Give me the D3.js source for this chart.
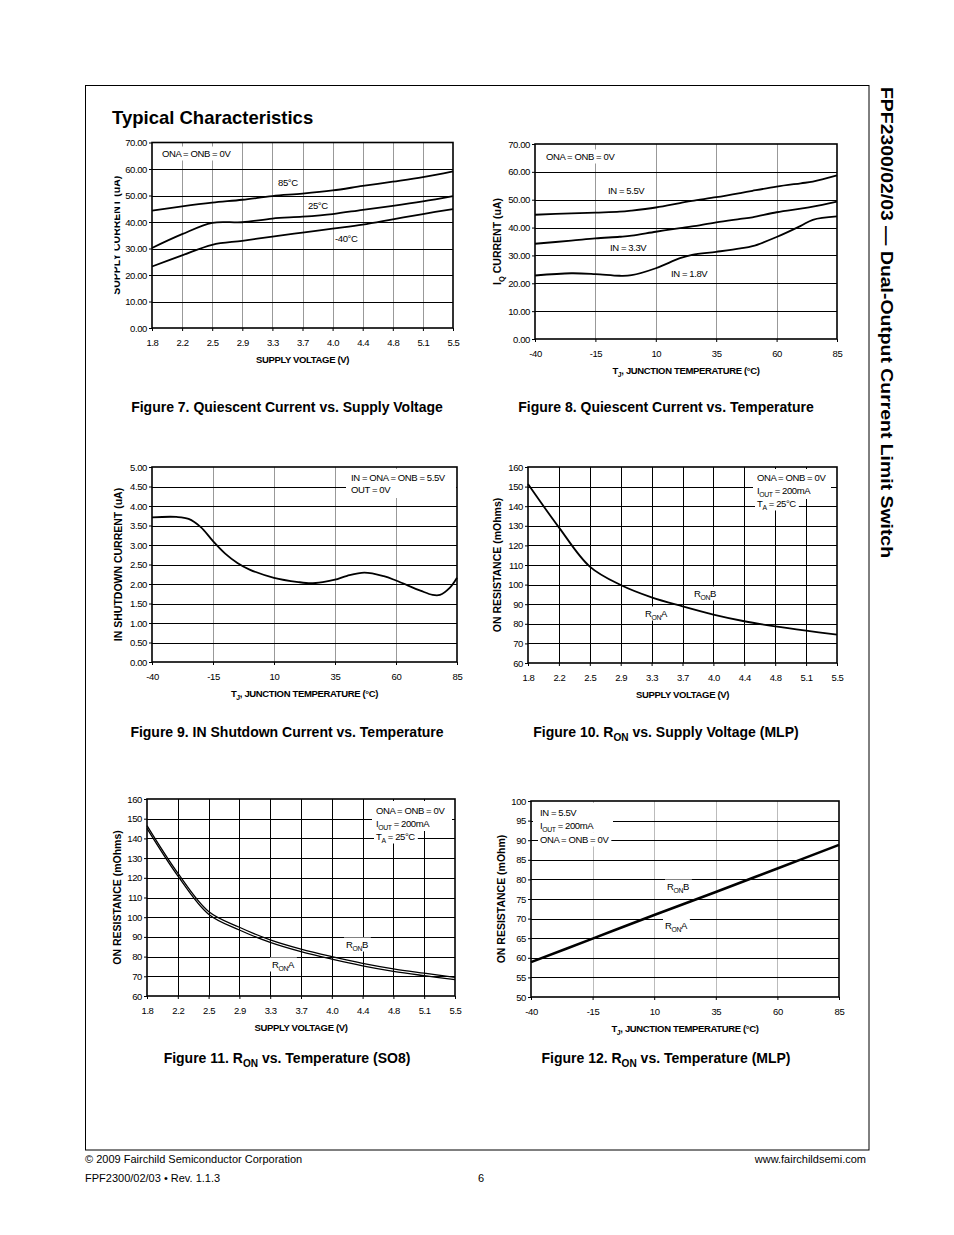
<!DOCTYPE html>
<html><head><meta charset="utf-8">
<script src="https://cdn.jsdelivr.net/npm/d3@7"></script>
<style>
body{margin:0;background:#fff;}
svg{display:block;font-family:"Liberation Sans",Arial,sans-serif;}
</style></head><body>
<svg id="page" width="954" height="1235"></svg>
<script>
// ---------- data ----------
const voltageTicks = ["1.8","2.2","2.5","2.9","3.3","3.7","4.0","4.4","4.8","5.1","5.5"];
const tempTicks = [-40,-15,10,35,60,85];

// Figure 7: quiescent current vs supply voltage (uA)
const fig7YTicks = [0,10,20,30,40,50,60,70];
const fig7Current85C  = [44.3,45.9,47.3,48.4,49.8,50.7,51.9,53.6,55.2,56.9,59.1];
const fig7Current25C  = [30.2,35.4,39.7,39.9,41.3,42.0,43.0,44.6,46.1,47.8,49.8];
const fig7CurrentM40C = [23.2,27.4,31.4,32.9,34.5,36.0,37.5,39.0,41.0,43.0,44.9];

// Figure 8: quiescent current vs temperature (uA)
const fig8YTicks = [0,10,20,30,40,50,60,70];
const fig8Temps = [-40,-25,-15,-5,0,10,20,25,35,45,50,60,70,75,85];
const fig8In55 = [44.6,45.1,45.4,45.7,46.1,47.2,48.8,49.6,50.9,52.4,53.2,54.7,55.9,56.5,58.7];
const fig8In33 = [34.2,35.3,36.1,36.7,37.1,38.5,39.8,40.4,41.9,43.1,43.7,45.5,46.8,47.5,49.3];
const fig8In18 = [22.8,23.6,23.3,22.7,22.9,25.4,29.0,30.2,31.3,32.5,33.3,36.6,40.6,42.8,44.0];

// Figure 9: IN shutdown current vs temperature (uA)
const fig9YTicks = [0,0.5,1,1.5,2,2.5,3,3.5,4,4.5,5];
const fig9Temps = [-40,-30,-25,-20,-15,-10,-5,0,10,20,25,30,35,40,47,55,60,70,75,78,82,85];
const fig9Shutdown = [3.71,3.72,3.67,3.46,3.10,2.78,2.54,2.37,2.16,2.05,2.02,2.05,2.11,2.21,2.29,2.20,2.09,1.83,1.72,1.72,1.90,2.16];

// Figure 10: RON vs supply voltage (MLP), mOhms
const ronYTicks = [60,70,80,90,100,110,120,130,140,150,160];
const fig10Ron = [151.3,129.2,109.2,99.8,93.5,88.9,84.7,81.3,78.7,76.5,74.5];

// Figure 11: RON vs supply voltage (SO8), mOhms
const fig11RonB = [146.5,122.4,102.9,94.9,88.5,83.8,80.0,76.6,73.8,71.6,69.5];
const fig11RonA = [145.1,121.0,101.5,93.5,87.2,82.5,78.7,75.3,72.5,70.3,68.3];

// Figure 12: RON vs temperature (MLP), mOhm
const fig12YTicks = [50,55,60,65,70,75,80,85,90,95,100];
const fig12Temps = [-40,-15,10,35,60,85];
const fig12Ron = [58.9,64.9,70.9,76.8,82.8,88.8];

// ---------- drawing ----------
const svg = d3.select("#page");
const FONT = '"Liberation Sans",Arial,sans-serif';

function rich(t, parts, fs){
  let shifted = false;
  parts.forEach(p=>{
    const isSub = Array.isArray(p);
    const txt = isSub ? p[0] : p;
    const ts = t.append("tspan").text(txt);
    if(isSub){ ts.attr("font-size", fs*0.72).attr("dy", fs*0.3); shifted = true; }
    else if(shifted){ ts.attr("dy", -fs*0.3); shifted = false; }
  });
  return t;
}

// page frame
svg.append("rect").attr("x",85.5).attr("y",85.5).attr("width",783.5).attr("height",1064.5)
  .attr("fill","none").attr("stroke","#000").attr("stroke-width",1);

svg.append("text").attr("x",112).attr("y",124).attr("font-size",18.5).attr("font-weight","bold")
  .text("Typical Characteristics");

svg.append("text").attr("transform","translate(881,87) rotate(90)")
  .attr("font-size",16).attr("font-weight","bold").attr("textLength",471).attr("lengthAdjust","spacingAndGlyphs")
  .text("FPF2300/02/03 — Dual-Output Current Limit Switch");

// footer
svg.append("text").attr("x",85).attr("y",1163).attr("font-size",11).text("© 2009 Fairchild Semiconductor Corporation");
svg.append("text").attr("x",866).attr("y",1163).attr("font-size",11).attr("text-anchor","end").text("www.fairchildsemi.com");
svg.append("text").attr("x",85).attr("y",1182).attr("font-size",11).text("FPF2300/02/03  •  Rev. 1.1.3");
svg.append("text").attr("x",481).attr("y",1182).attr("font-size",11).attr("text-anchor","middle").text("6");

let clipCount = 0;
function chart(o){
  const g = svg.append("g");
  const x = o.xType === "point"
    ? d3.scalePoint().domain(o.xDomain).range([o.x0,o.x1])
    : d3.scaleLinear().domain(o.xDomain).range([o.x0,o.x1]);
  const y = d3.scaleLinear().domain(d3.extent(o.yTicks)).range([o.y1,o.y0]);

  // vertical grid
  g.append("g").selectAll("line").data(o.xTicks.slice(1,-1)).join("line")
    .attr("x1",d=>Math.round(x(d))+0.5).attr("x2",d=>Math.round(x(d))+0.5).attr("y1",o.y0).attr("y2",o.y1)
    .attr("stroke",o.vColor).attr("stroke-width",1);
  // horizontal grid
  g.append("g").selectAll("line").data(o.yTicks.slice(1,-1)).join("line")
    .attr("x1",o.x0).attr("x2",o.x1).attr("y1",d=>Math.round(y(d))+0.5).attr("y2",d=>Math.round(y(d))+0.5)
    .attr("stroke","#000").attr("stroke-width",1);

  // notes: white backgrounds, then text
  const bgLayer = g.append("g");
  const txtLayer = g.append("g");
  (o.boxes||[]).forEach(b=>{
    bgLayer.append("rect").attr("x",b[0]).attr("y",b[1]).attr("width",b[2]).attr("height",b[3]).attr("fill","#fff");
  });
  (o.notes||[]).forEach(n=>{
    const t = txtLayer.append("text").attr("x",n.x).attr("y",n.y).attr("font-size",9.5).attr("letter-spacing",-0.4);
    rich(t, n.parts, 9.5);
    if(n.bg){
      const w = t.node().getComputedTextLength();
      bgLayer.append("rect").attr("x",n.x-2).attr("y",n.y-10.5).attr("width",w+5).attr("height",14).attr("fill","#fff");
    }
  });

  // series
  const line = d3.line().x(d=>x(d[0])).y(d=>y(d[1])).curve(d3.curveCatmullRom.alpha(0.5));
  o.series.forEach(s=>{
    g.append("path").datum(s.xs.map((v,i)=>[v,s.ys[i]]))
      .attr("d",line).attr("fill","none").attr("stroke","#000")
      .attr("stroke-width",s.w||1.8).attr("stroke-linejoin","round");
  });

  // frame
  g.append("rect").attr("x",o.x0).attr("y",o.y0).attr("width",o.x1-o.x0).attr("height",o.y1-o.y0)
    .attr("fill","none").attr("stroke","#000").attr("stroke-width",1.6);

  // axes
  const ya = g.append("g").attr("transform",`translate(${o.x0},0)`)
    .call(d3.axisLeft(y).tickValues(o.yTicks).tickFormat(o.yFmt).tickSize(3).tickPadding(2));
  const xa = g.append("g").attr("transform",`translate(0,${o.y1})`)
    .call(d3.axisBottom(x).tickValues(o.xTicks).tickFormat(d=>String(d)).tickSize(3).tickPadding(8));
  [ya,xa].forEach(a=>{
    a.select(".domain").remove();
    a.selectAll("text").attr("font-size",9.5).attr("font-family",FONT).attr("letter-spacing",-0.4).attr("fill","#000");
    a.selectAll("line").attr("stroke","#000");
  });

  // axis titles
  const xt = g.append("text").attr("x",(o.x0+o.x1)/2).attr("y",o.y1+35).attr("text-anchor","middle")
    .attr("font-size",9.5).attr("font-weight","bold").attr("letter-spacing",-0.35);
  rich(xt, o.xTitle, 9.5);

  const yc = (o.y0+o.y1)/2;
  const yg = g.append("g");
  const yt = yg.append("text").attr("transform",`translate(${o.yTitleX},${yc}) rotate(-90)`)
    .attr("text-anchor","middle").attr("font-size",o.yTitleSize||10.5).attr("font-weight","bold");
  rich(yt, o.yTitle, o.yTitleSize||10.5);
  if(o.yTitleClip){
    const id = "yclip"+(clipCount++);
    g.append("clipPath").attr("id",id).append("rect")
      .attr("x",o.yTitleClip).attr("y",o.y0-20).attr("width",30).attr("height",o.y1-o.y0+40);
    yg.attr("clip-path",`url(#${id})`);
  }

  // caption
  const cap = g.append("text").attr("x",o.capX).attr("y",o.capY).attr("text-anchor","middle")
    .attr("font-size",14).attr("font-weight","bold");
  rich(cap, o.caption, 14);
}

const fmt2 = d3.format(".2f");
const fmtInt = d => String(d);
const tempTitle = ["T",["J"],", JUNCTION TEMPERATURE (°C)"];

// Figure 7
chart({
  x0:152, x1:453, y0:142.5, y1:328, xType:"point", xDomain:voltageTicks, xTicks:voltageTicks,
  yTicks:fig7YTicks, yFmt:fmt2, vColor:"#999",
  series:[
    {xs:voltageTicks, ys:fig7Current85C},
    {xs:voltageTicks, ys:fig7Current25C},
    {xs:voltageTicks, ys:fig7CurrentM40C}
  ],
  notes:[
    {x:162,y:157,parts:["ONA = ONB = 0V"],bg:true},
    {x:278,y:186,parts:["85°C"]},
    {x:308,y:209,parts:["25°C"]},
    {x:335,y:242,parts:["-40°C"]}
  ],
  xTitle:["SUPPLY VOLTAGE (V)"], yTitle:["SUPPLY CURRENT (uA)"], yTitleX:120, yTitleClip:114.5,
  caption:["Figure 7. Quiescent Current vs. Supply Voltage"], capX:287, capY:412
});

// Figure 8
chart({
  x0:535, x1:837, y0:144, y1:339, xType:"linear", xDomain:[-40,85], xTicks:tempTicks,
  yTicks:fig8YTicks, yFmt:fmt2, vColor:"#999",
  series:[
    {xs:fig8Temps, ys:fig8In55},
    {xs:fig8Temps, ys:fig8In33},
    {xs:fig8Temps, ys:fig8In18}
  ],
  notes:[
    {x:546,y:160,parts:["ONA = ONB = 0V"],bg:true},
    {x:608,y:194,parts:["IN = 5.5V"]},
    {x:610,y:251,parts:["IN = 3.3V"]},
    {x:671,y:277,parts:["IN = 1.8V"]}
  ],
  xTitle:tempTitle, yTitle:["I",["Q"]," CURRENT (uA)"], yTitleX:501,
  caption:["Figure 8.  Quiescent Current vs. Temperature"], capX:666, capY:412
});

// Figure 9
chart({
  x0:152, x1:457, y0:467, y1:662, xType:"linear", xDomain:[-40,85], xTicks:tempTicks,
  yTicks:fig9YTicks, yFmt:fmt2, vColor:"#999",
  series:[{xs:fig9Temps, ys:fig9Shutdown}],
  boxes:[[346,469,110,29]],
  notes:[
    {x:351,y:481,parts:["IN = ONA = ONB = 5.5V"]},
    {x:351,y:493,parts:["OUT = 0V"]}
  ],
  xTitle:tempTitle, yTitle:["IN SHUTDOWN CURRENT (uA)"], yTitleX:122,
  caption:["Figure 9. IN Shutdown Current vs. Temperature"], capX:287, capY:737
});

// Figure 10
chart({
  x0:528, x1:837, y0:467, y1:663, xType:"point", xDomain:voltageTicks, xTicks:voltageTicks,
  yTicks:ronYTicks, yFmt:fmtInt, vColor:"#000",
  series:[{xs:voltageTicks, ys:fig10Ron}],
  boxes:[[753,469,78,30]],
  notes:[
    {x:757,y:481,parts:["ONA = ONB = 0V"],bg:true},
    {x:757,y:494,parts:["I",["OUT"]," = 200mA"],bg:true},
    {x:757,y:507,parts:["T",["A"]," = 25°C"],bg:true},
    {x:694,y:597,parts:["R",["ON"],"B"],bg:true},
    {x:645,y:617,parts:["R",["ON"],"A"],bg:true}
  ],
  xTitle:["SUPPLY VOLTAGE (V)"], yTitle:["ON RESISTANCE (mOhms)"], yTitleX:501,
  caption:["Figure 10. R",["ON"]," vs. Supply Voltage (MLP)"], capX:666, capY:737
});

// Figure 11
chart({
  x0:147, x1:455, y0:799, y1:996, xType:"point", xDomain:voltageTicks, xTicks:voltageTicks,
  yTicks:ronYTicks, yFmt:fmtInt, vColor:"#000",
  series:[
    {xs:voltageTicks, ys:fig11RonB, w:1.3},
    {xs:voltageTicks, ys:fig11RonA, w:1.3}
  ],
  boxes:[[372,801,80,30]],
  notes:[
    {x:376,y:814,parts:["ONA = ONB = 0V"],bg:true},
    {x:376,y:827,parts:["I",["OUT"]," = 200mA"],bg:true},
    {x:376,y:840,parts:["T",["A"]," = 25°C"],bg:true},
    {x:346,y:948,parts:["R",["ON"],"B"],bg:true},
    {x:272,y:968,parts:["R",["ON"],"A"],bg:true}
  ],
  xTitle:["SUPPLY VOLTAGE (V)"], yTitle:["ON RESISTANCE (mOhms)"], yTitleX:121,
  caption:["Figure 11. R",["ON"]," vs. Temperature (SO8)"], capX:287, capY:1063
});

// Figure 12
chart({
  x0:531, x1:839, y0:801, y1:997, xType:"linear", xDomain:[-40,85], xTicks:tempTicks,
  yTicks:fig12YTicks, yFmt:fmtInt, vColor:"#bbb",
  series:[{xs:fig12Temps, ys:fig12Ron, w:2.6}],
  boxes:[[533,803,80,29]],
  notes:[
    {x:540,y:816,parts:["IN = 5.5V"],bg:true},
    {x:540,y:829,parts:["I",["OUT"]," = 200mA"],bg:true},
    {x:540,y:843,parts:["ONA = ONB = 0V"],bg:true},
    {x:667,y:890,parts:["R",["ON"],"B"],bg:true},
    {x:665,y:929,parts:["R",["ON"],"A"],bg:true}
  ],
  xTitle:tempTitle, yTitle:["ON RESISTANCE (mOhm)"], yTitleX:505,
  caption:["Figure 12. R",["ON"]," vs. Temperature (MLP)"], capX:666, capY:1063
});
</script>
</body></html>
